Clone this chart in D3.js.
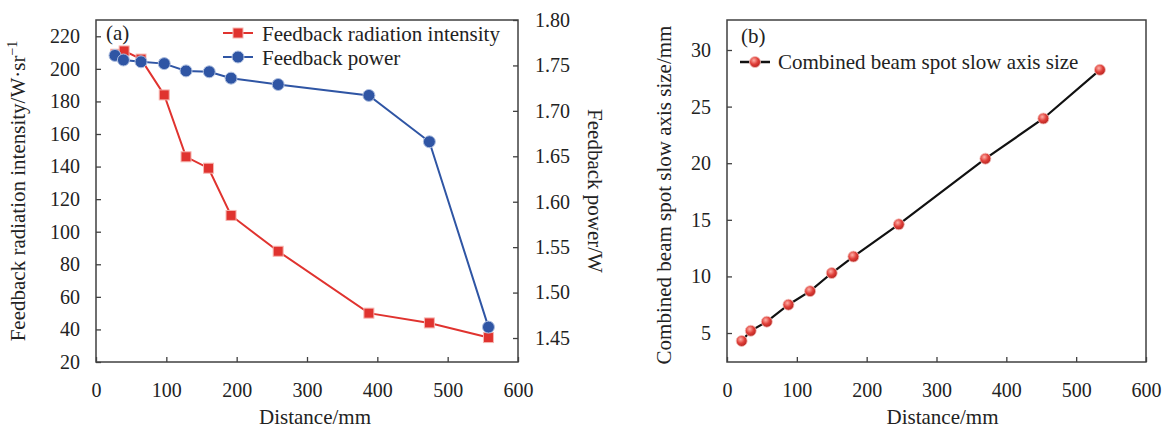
<!DOCTYPE html>
<html><head><meta charset="utf-8">
<script src="https://cdn.jsdelivr.net/npm/d3@7"></script>
<style>body{margin:0;background:#fff}svg{display:block}text{font-family:"Liberation Serif","Times New Roman",serif;fill:#222}</style>
</head><body><svg id="c" width="1166" height="428"></svg>
<script>
// ---- data ----
const intensityX = [28, 40, 64, 97, 128, 160, 192, 259, 388, 474, 558];
const intensityY = [209, 211, 206, 184, 146, 139, 110, 88, 50, 44, 35];
const powerX = [27, 39, 64, 97, 128, 161, 192, 259, 388, 474, 558];
const powerY = [1.761, 1.756, 1.754, 1.752, 1.744, 1.743, 1.736, 1.729, 1.717, 1.666, 1.462];
const spotX = [21, 34, 57, 88, 119, 150, 181, 246, 370, 453, 534];
const spotY = [4.3, 5.2, 6.0, 7.5, 8.7, 10.3, 11.75, 14.6, 20.4, 23.95, 28.25];
const xTicks = [0, 100, 200, 300, 400, 500, 600];
const leftTicks = [20, 40, 60, 80, 100, 120, 140, 160, 180, 200, 220];
const rightTicks = [1.45, 1.50, 1.55, 1.60, 1.65, 1.70, 1.75, 1.80];
const spotTicks = [5, 10, 15, 20, 25, 30];

const svg = d3.select("#c");
const RED = "#e0332f", BLUE = "#2f55a4", AX = "#404040";

const defs = svg.append("defs");
const g = defs.append("radialGradient").attr("id","ball").attr("cx","40%").attr("cy","35%").attr("r","65%");
g.append("stop").attr("offset","0%").attr("stop-color","#ffb0a8");
g.append("stop").attr("offset","55%").attr("stop-color","#e0403a");
g.append("stop").attr("offset","100%").attr("stop-color","#b82420");

function frame(x0, x1, y0, y1) {
  svg.append("rect").attr("x", x0).attr("y", y0).attr("width", x1 - x0).attr("height", y1 - y0)
    .attr("fill", "none").attr("stroke", AX).attr("stroke-width", 1.5);
}
function styleAxis(sel) {
  sel.select(".domain").remove();
  sel.selectAll(".tick line").attr("stroke", AX).attr("stroke-width", 1.3);
  sel.selectAll(".tick text").style("font-size", "20px").attr("fill", "#222");
}

// ===== Panel (a) =====
const aL = 96, aR = 518, aT = 20, aB = 362;
const xa = d3.scaleLinear().domain([0, 600]).range([aL, aR]);
const yl = d3.scaleLinear().domain([20, 230]).range([aB, aT]);
const yr = d3.scaleLinear().domain([1.4236, 1.80]).range([aB, aT]);

svg.append("g").attr("transform", `translate(0,${aB})`)
  .call(d3.axisBottom(xa).tickValues(xTicks).tickSizeInner(-5).tickSizeOuter(0).tickPadding(21).tickFormat(d3.format("d")))
  .call(styleAxis);
svg.append("g").attr("transform", `translate(${aL},0)`)
  .call(d3.axisLeft(yl).tickValues(leftTicks).tickSizeInner(-5).tickSizeOuter(0).tickPadding(16).tickFormat(d3.format("d")))
  .call(styleAxis);
svg.append("g").attr("transform", `translate(${aR},0)`)
  .call(d3.axisRight(yr).tickValues(rightTicks).tickSizeInner(-5).tickSizeOuter(0).tickPadding(17).tickFormat(d3.format(".2f")))
  .call(styleAxis);
frame(aL, aR, aT, aB);

const intensity = intensityX.map((x, i) => [x, intensityY[i]]);
const power = powerX.map((x, i) => [x, powerY[i]]);

svg.append("path").datum(intensity).attr("fill", "none").attr("stroke", RED).attr("stroke-width", 2)
  .attr("d", d3.line().x(d => xa(d[0])).y(d => yl(d[1])));
svg.selectAll(".sq").data(intensity).enter().append("rect")
  .attr("x", d => xa(d[0]) - 5).attr("y", d => yl(d[1]) - 5).attr("width", 10).attr("height", 10)
  .attr("fill", RED).attr("stroke", "#f6b5b0").attr("stroke-width", 1);

svg.append("path").datum(power).attr("fill", "none").attr("stroke", BLUE).attr("stroke-width", 2)
  .attr("d", d3.line().x(d => xa(d[0])).y(d => yr(d[1])));
svg.selectAll(".ci").data(power).enter().append("circle")
  .attr("cx", d => xa(d[0])).attr("cy", d => yr(d[1])).attr("r", 6)
  .attr("fill", BLUE).attr("stroke", "#aebfe0").attr("stroke-width", 1);

// legend (a)
svg.append("text").attr("x", 106).attr("y", 40).style("font-size", "21px").text("(a)");
svg.append("line").attr("x1", 223).attr("x2", 253).attr("y1", 33).attr("y2", 33).attr("stroke", RED).attr("stroke-width", 2);
svg.append("rect").attr("x", 233).attr("y", 28).attr("width", 10).attr("height", 10).attr("fill", RED).attr("stroke", "#f6b5b0");
svg.append("text").attr("x", 262).attr("y", 40.5).style("font-size", "21px").text("Feedback radiation intensity");
svg.append("line").attr("x1", 223).attr("x2", 253).attr("y1", 57).attr("y2", 57).attr("stroke", BLUE).attr("stroke-width", 2);
svg.append("circle").attr("cx", 238).attr("cy", 57).attr("r", 6).attr("fill", BLUE).attr("stroke", "#aebfe0");
svg.append("text").attr("x", 262).attr("y", 64.5).style("font-size", "21px").text("Feedback power");

// axis titles (a)
svg.append("text").attr("x", (aL + aR) / 2 + 8).attr("y", 424).attr("text-anchor", "middle").style("font-size", "21px").text("Distance/mm");
const lt = svg.append("text").attr("transform", `translate(25,${(aT + aB) / 2}) rotate(-90)`).attr("text-anchor", "middle").style("font-size", "21px");
lt.append("tspan").text("Feedback radiation intensity/W·sr");
lt.append("tspan").attr("dy", -8).style("font-size", "14px").text("−1");
svg.append("text").attr("transform", `translate(588,${(aT + aB) / 2}) rotate(90)`).attr("text-anchor", "middle").style("font-size", "21px").text("Feedback power/W");

// ===== Panel (b) =====
const bL = 727, bR = 1146, bT = 20, bB = 362;
const xb = d3.scaleLinear().domain([0, 600]).range([bL, bR]);
const yb = d3.scaleLinear().domain([2.44, 32.65]).range([bB, bT]);

svg.append("g").attr("transform", `translate(0,${bB})`)
  .call(d3.axisBottom(xb).tickValues(xTicks).tickSizeInner(-5).tickSizeOuter(0).tickPadding(21).tickFormat(d3.format("d")))
  .call(styleAxis);
svg.append("g").attr("transform", `translate(${bL},0)`)
  .call(d3.axisLeft(yb).tickValues(spotTicks).tickSizeInner(-5).tickSizeOuter(0).tickPadding(16).tickFormat(d3.format("d")))
  .call(styleAxis);
frame(bL, bR, bT, bB);

const spot = spotX.map((x, i) => [x, spotY[i]]);
svg.append("path").datum(spot).attr("fill", "none").attr("stroke", "#111").attr("stroke-width", 2.2)
  .attr("d", d3.line().x(d => xb(d[0])).y(d => yb(d[1])));
svg.selectAll(".ball").data(spot).enter().append("circle")
  .attr("cx", d => xb(d[0])).attr("cy", d => yb(d[1])).attr("r", 5.5)
  .attr("fill", "url(#ball)").attr("stroke", "#f3c0bb").attr("stroke-width", 0.8);

svg.append("text").attr("x", 741).attr("y", 43).style("font-size", "21px").text("(b)");
svg.append("line").attr("x1", 740).attr("x2", 770).attr("y1", 62).attr("y2", 62).attr("stroke", "#111").attr("stroke-width", 2.5);
svg.append("circle").attr("cx", 755).attr("cy", 62).attr("r", 5.5).attr("fill", "url(#ball)").attr("stroke", "#f3c0bb").attr("stroke-width", 0.8);
svg.append("text").attr("x", 778).attr("y", 69).style("font-size", "21px").text("Combined beam spot slow axis size");

svg.append("text").attr("x", (bL + bR) / 2 + 6).attr("y", 424).attr("text-anchor", "middle").style("font-size", "21px").text("Distance/mm");
svg.append("text").attr("transform", `translate(671,${(bT + bB) / 2 + 4}) rotate(-90)`).attr("text-anchor", "middle").style("font-size", "21px").text("Combined beam spot slow axis size/mm");
</script></body></html>
